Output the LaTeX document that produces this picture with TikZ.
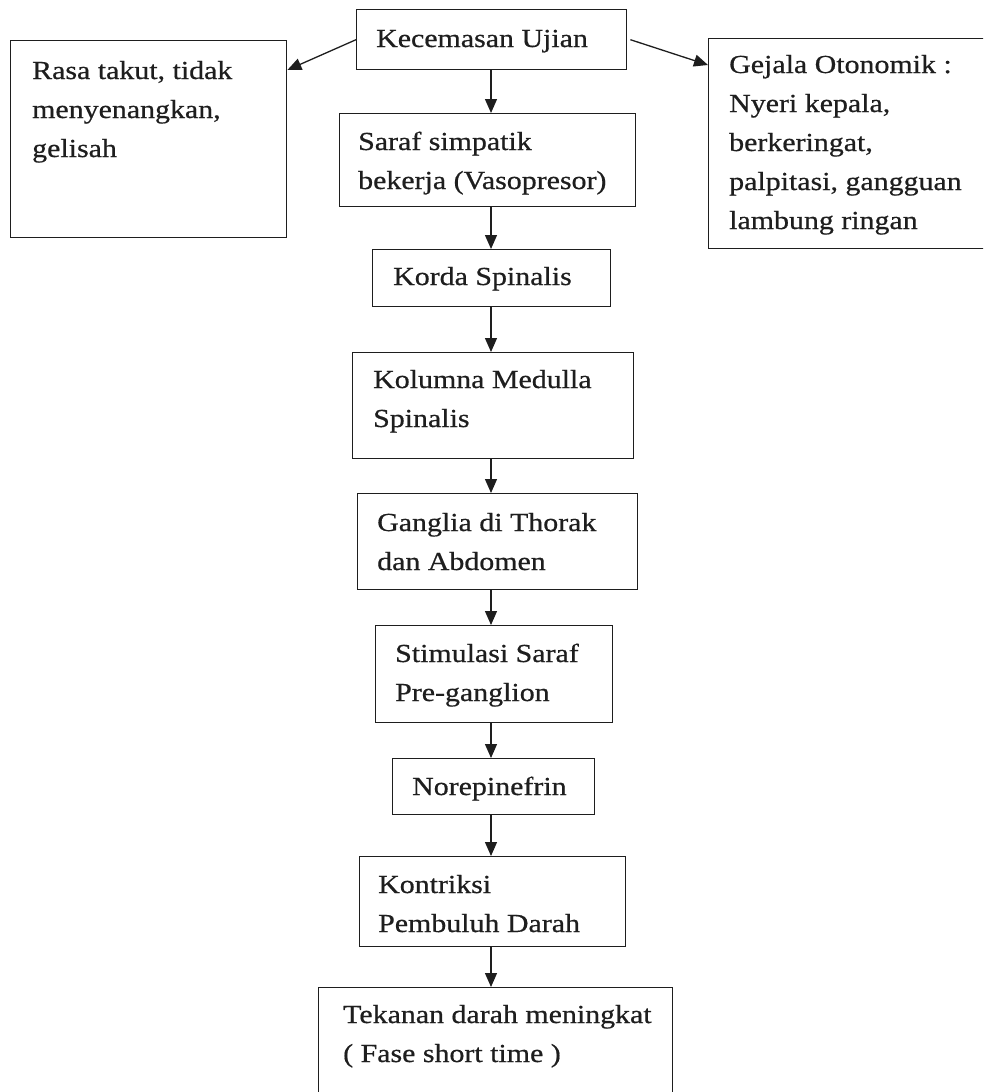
\documentclass[tikz,border=0pt]{standalone}
\usepackage{fontspec}
\setmainfont{Liberation Serif}[FakeStretch=1.15,FakeBold=0.6]
\usetikzlibrary{arrows.meta}
\definecolor{ink}{HTML}{1E1E1E}
\tikzset{
  box/.style={draw=ink, line width=1.4pt, rectangle, inner sep=0pt},
  txt/.style={inner sep=0pt, text=ink, font=\fontsize{26pt}{39pt}\selectfont},
  arr/.style={draw=ink, line width=1.3pt, -{Triangle[width=12pt,length=14pt]}}
}
\newcommand\flowbox[8]{%
  \node[box, minimum width={(#4-#2)*1pt}, minimum height={(#5-#3)*1pt}, anchor=north west] (#1) at (#2pt,-#3pt) {};
  \node[txt, anchor=base west] (#1t) at ([xshift=#6pt,yshift=-#7pt]#1.north west) {\begin{tabular}[t]{@{}l@{}}#8\end{tabular}};
}
\begin{document}
\begin{tikzpicture}
\useasboundingbox[fill=white] (0,0) rectangle (983pt,-1092pt);
\clip (0,0) rectangle (983pt,-1092pt);
\flowbox{kec}{356}{9}{626}{69}{20}{38}{Kecemasan Ujian}
\flowbox{rasa}{10}{40}{286}{237}{22}{39}{Rasa takut, tidak\\menyenangkan,\\gelisah}
\flowbox{gej}{708}{38}{995}{248}{21}{35}{Gejala Otonomik :\\Nyeri kepala,\\berkeringat,\\palpitasi, gangguan\\lambung ringan}
\flowbox{sar}{339}{113}{635}{206}{19}{37}{Saraf simpatik\\bekerja (Vasopresor)}
\flowbox{kor}{372}{249}{610}{306}{21}{36}{Korda Spinalis}
\flowbox{kol}{352}{352}{633}{458}{21}{36}{Kolumna Medulla\\Spinalis}
\flowbox{gan}{357}{493}{637}{589}{20}{38}{Ganglia di Thorak\\dan Abdomen}
\flowbox{sti}{375}{625}{612}{722}{20}{37}{Stimulasi Saraf\\Pre-ganglion}
\flowbox{nor}{392}{758}{594}{814}{20}{37}{Norepinefrin}
\flowbox{kon}{359}{856}{625}{946}{19}{37}{Kontriksi\\Pembuluh Darah}
\flowbox{tek}{318}{987}{672}{1110}{25}{36}{Tekanan darah meningkat\\( Fase short time )}
\coordinate (ax) at (491pt,0);
\draw[arr] (kec.south -| ax) -- (sar.north -| ax);
\draw[arr] (sar.south -| ax) -- (kor.north -| ax);
\draw[arr] (kor.south -| ax) -- (kol.north -| ax);
\draw[arr] (kol.south -| ax) -- (gan.north -| ax);
\draw[arr] (gan.south -| ax) -- (sti.north -| ax);
\draw[arr] (sti.south -| ax) -- (nor.north -| ax);
\draw[arr] (nor.south -| ax) -- (kon.north -| ax);
\draw[arr] (kon.south -| ax) -- (tek.north -| ax);
\draw[arr] (kec.west) -- ([yshift=-30pt]rasa.north east);
\draw[arr] ([xshift=3pt]kec.east) -- ([yshift=-27pt]gej.north west);
\end{tikzpicture}
\end{document}
